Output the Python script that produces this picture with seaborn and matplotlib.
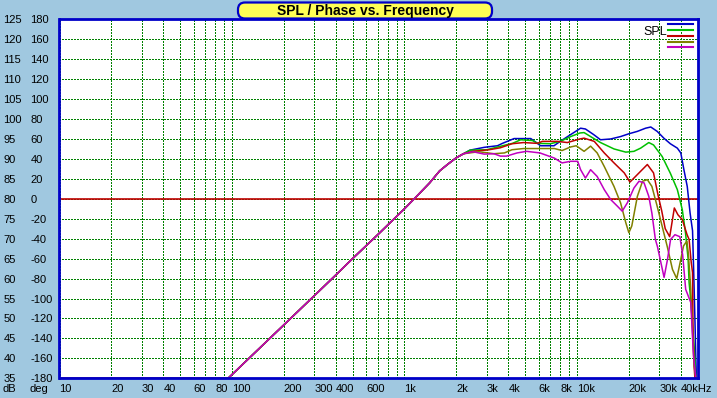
import matplotlib
matplotlib.use("Agg")
import matplotlib.pyplot as plt
import seaborn as sns
import pandas as pd
from matplotlib.patches import FancyBboxPatch
from matplotlib.transforms import IdentityTransform

# shared rising part of all five responses (Hz, dB); below 35 dB it sits on the floor
common_freq = [10, 95, 200, 300, 400, 500, 700, 1000, 1200, 1400, 1600, 1775, 2000, 2200]
common_spl = [35, 35, 48.4, 55.7, 60.9, 65, 71, 77.5, 81, 84, 87, 88.6, 90.3, 91.3]

blue_freq = [2400, 2900, 3460, 3700, 4320, 5400, 5900, 6150, 7360, 8000, 9200, 10500, 11200,
             12500, 13700, 15700, 17900, 20000, 22400, 25000, 26800, 29200, 31900, 34800,
             38200, 40000, 41700, 43600, 45300, 46800, 47500, 48300, 48900, 49300]
blue_spl = [92.2, 92.9, 93.3, 93.9, 95.1, 95.1, 93.9, 93.3, 93.3, 94.4, 96.1, 97.7, 97.5,
            96.1, 94.8, 95, 95.6, 96.3, 96.9, 97.7, 98, 96.9, 95.2, 93.8,
            92.7, 91.5, 87.3, 83.1, 76.4, 72, 62, 50, 40, 35]

green_freq = [2400, 3000, 3790, 4230, 4720, 5520, 5900, 7000, 8000, 9200, 10400, 11000, 12000,
              13700, 16400, 19200, 21400, 23400, 26100, 27800, 31200, 34800, 38200, 40800,
              42600, 44100, 44700, 45700, 46800, 47800, 48900]
green_spl = [92.2, 92.3, 93.4, 93.9, 94.8, 94.6, 93.9, 93.8, 94.4, 95.6, 96.5, 96.6, 95.6,
             94.1, 92.5, 91.7, 91.9, 92.7, 94.1, 93.5, 90.6, 86.4, 82.3, 77.3,
             71.5, 65, 59, 54.6, 48, 43, 35]

red_freq = [2500, 3100, 3600, 4200, 4900, 5900, 6300, 7700, 8800, 10400, 11000, 12600, 14400,
            16400, 18800, 20300, 23400, 25600, 27800, 29500, 31000, 32500, 34500, 36700,
            38500, 40800, 43500, 44700, 46000, 46800, 47100, 47800, 48300]
red_spl = [91.9, 92.3, 92.8, 93.8, 94.1, 93.9, 94.4, 94.4, 94.1, 95, 95.2, 94.4, 91.5,
           89, 86.5, 84.2, 86.9, 88.6, 86.5, 81, 77, 72.5, 70.5, 77.7,
           76, 74.8, 71, 69.8, 64, 61.5, 46.5, 38, 35]

olive_freq = [2700, 3300, 3800, 4200, 4900, 6100, 7400, 8200, 9200, 9900, 11000, 12000, 13100,
              14400, 16400, 17900, 19200, 20000, 20800, 22400, 24000, 25600, 27200, 29200,
              31200, 33400, 35800, 37900, 40000, 41500, 43400, 44300, 45700, 46800, 47800, 48900]
olive_spl = [91.8, 91.3, 91.5, 92.3, 92.6, 92.6, 92.6, 92.1, 93, 93.3, 91.9, 93.2, 91.5,
             88.1, 83.1, 79, 74, 71.5, 73.2, 80.6, 84.4, 84.8, 83.1, 78.1,
             73.1, 68, 62.3, 60, 64.8, 68.2, 69.4, 66, 57.3, 46.5, 38.2, 35]

magenta_freq = [2500, 2900, 3300, 3600, 3900, 4500, 5100, 6100, 7400, 8200, 9200, 10100, 10500,
                11200, 12000, 13100, 14400, 15700, 17200, 18300, 19600, 21400, 22900, 24500,
                26100, 27200, 28500, 29300, 32000, 33500, 34900, 37000, 39500, 41000, 42700,
                45700, 47400, 48900]
magenta_spl = [91.8, 91.2, 91.3, 90.7, 90.7, 91.5, 91.9, 91.5, 90.2, 89, 89.4, 89.4, 87.3,
               85.2, 87.3, 85.6, 82.3, 79.8, 78.1, 76.9, 79, 82.7, 84.4, 84,
               80.6, 76.4, 69.8, 68, 60.3, 64.8, 69.8, 71, 70.5, 66, 57.3,
               54, 40.6, 35]

curve_names = ["blue", "green", "red", "olive", "magenta"]
curve_colors = ["#0000C8", "#00C000", "#C00000", "#808000", "#C000C0"]

grid_freqs = [10, 20, 30, 40, 50, 60, 70, 80, 90, 100, 200, 300, 400, 500, 600, 700, 800, 900,
              1000, 2000, 3000, 4000, 5000, 6000, 7000, 8000, 9000, 10000, 20000, 30000, 40000]
grid_labels = ["10", "20", "30", "40", "", "60", "", "80", "", "100", "200", "300", "400", "",
               "600", "", "", "", "1k", "2k", "3k", "4k", "", "6k", "", "8k", "", "10k", "20k",
               "30k", "40kHz"]
db_ticks = list(range(35, 126, 5))
deg_ticks = list(range(-180, 181, 20))

own = {
    "blue": (blue_freq, blue_spl),
    "green": (green_freq, green_spl),
    "red": (red_freq, red_spl),
    "olive": (olive_freq, olive_spl),
    "magenta": (magenta_freq, magenta_spl),
}
rows = []
for name in curve_names:
    f, s = own[name]
    for fr, db in zip(common_freq + f, common_spl + s):
        rows.append({"freq": fr, "spl": db, "curve": name})
df = pd.DataFrame(rows)

plt.rcParams["font.family"] = ["Liberation Sans", "DejaVu Sans"]
bg = "#A0C8E0"
blue = "#0000C8"

fig = plt.figure(figsize=(7.17, 3.98), dpi=100, facecolor=bg)
ax = fig.add_axes([59.5 / 717, 19.7 / 398, 638 / 717, 359 / 398])
ax.set_facecolor("white")

sns.lineplot(data=df, x="freq", y="spl", hue="curve", palette=curve_colors,
             estimator=None, sort=False, lw=1.1, ax=ax)

ax.set_xscale("log")
ax.set_xlim(10, 50000)
ax.set_ylim(35, 125)
ax.set_xticks(grid_freqs, labels=grid_labels)
ax.xaxis.set_minor_locator(matplotlib.ticker.NullLocator())
ax.set_yticks(db_ticks, labels=[str(v) for v in db_ticks])
ax.set_xlabel("")
ax.set_ylabel("")

# crisp 1px dotted grid, like the original
ax.grid(True, color="#008000", linestyle=(0, (1, 1.2)), lw=0.75, antialiased=False)
ax.set_axisbelow(True)
ax.axhline(80, color="#C00000", lw=1.2, zorder=1.5)

for sp in ax.spines.values():
    sp.set_color(blue)
    sp.set_linewidth(2)

ax.tick_params(axis="x", length=0, pad=4, labelsize=8)
ax.tick_params(axis="y", length=0, pad=40.3, labelsize=8)
for lab in ax.get_xticklabels():
    lab.set_ha("left")
for lab in ax.get_yticklabels():
    lab.set_ha("left")

sec = ax.secondary_yaxis("left", functions=(lambda d: (d - 80) * 4, lambda g: g / 4 + 80))
sec.set_yticks(deg_ticks, labels=[str(v) for v in deg_ticks])
sec.tick_params(length=0, pad=20.9, labelsize=8)
sec.spines["left"].set_visible(False)
for lab in sec.get_yticklabels():
    lab.set_ha("left")

fig.text(3 / 717, 1 - 389.5 / 398, "dB", fontsize=8, va="center", ha="left")
fig.text(30 / 717, 1 - 389.5 / 398, "deg", fontsize=8, va="center", ha="left")

# legend: five short coloured lines next to "SPL"
handles, _ = ax.get_legend_handles_labels()
ax.legend(handles, [""] * len(handles), loc="upper right",
          bbox_to_anchor=(693 / 717, 1 - 22 / 398), bbox_transform=fig.transFigure,
          frameon=False, fontsize=4.3, handlelength=4.2, handleheight=1,
          labelspacing=0, handletextpad=0, borderpad=0, borderaxespad=0)
for ln in ax.get_legend().get_lines():
    ln.set_linewidth(1.5)
fig.text(643 / 717, 1 - 32 / 398, "SPL", fontsize=9, va="center", ha="left")

# title box
box = FancyBboxPatch((238, 398 - 18.5), 254, 16, boxstyle="round,pad=0,rounding_size=7",
                     transform=IdentityTransform(), facecolor="#FFFF55", edgecolor=blue,
                     lw=1.6, zorder=5)
fig.add_artist(box)
fig.text(365 / 717, 1 - 10.5 / 398, "SPL / Phase vs. Frequency", fontsize=10,
         fontweight="bold", ha="center", va="center", zorder=6)

fig.savefig("out.png", dpi=100, facecolor=bg)
